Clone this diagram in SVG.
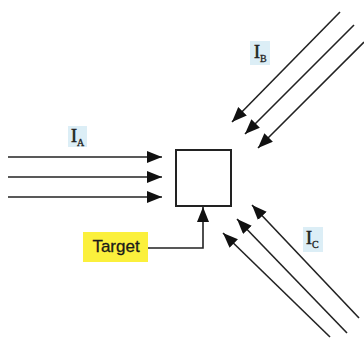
<svg xmlns="http://www.w3.org/2000/svg" width="364" height="348" viewBox="0 0 364 348">
<defs>
<style>
.ln{stroke:#222;stroke-width:1.6;fill:none;marker-end:url(#ah)}
.lbl{fill:#dceef6}
.i{font-family:"Liberation Serif",serif;font-size:18px;fill:#222;stroke:#222;stroke-width:0.6}
.s{font-family:"Liberation Serif",serif;font-size:10px;fill:#222;stroke:#222;stroke-width:0.3}
</style>
<marker id="ah" markerUnits="userSpaceOnUse" markerWidth="16" markerHeight="13" refX="15" refY="6" orient="auto">
<path d="M0,0 L15,6 L0,12 Z" fill="#111"/>
</marker>
</defs>
<rect width="364" height="348" fill="#fff"/>
<g id="connectors">
<line class="ln" x1="8" y1="157" x2="162" y2="157"/>
<line class="ln" x1="8" y1="177" x2="162" y2="177"/>
<line class="ln" x1="8" y1="197" x2="162" y2="197"/>
<line class="ln" x1="340" y1="12" x2="232" y2="122"/>
<line class="ln" x1="354" y1="25" x2="245" y2="134"/>
<line class="ln" x1="364" y1="42" x2="258" y2="148"/>
<line class="ln" x1="359" y1="318" x2="252" y2="205"/>
<line class="ln" x1="347" y1="333" x2="237" y2="219"/>
<line class="ln" x1="330" y1="337" x2="223" y2="233"/>
<polyline class="ln" points="148,248 203,248 203,207"/>
</g>
<g id="target-box">
<rect x="176" y="150" width="55" height="56" fill="#fff" stroke="#222" stroke-width="2"/>
</g>
<g id="target-label">
<rect x="83" y="232" width="65" height="30" fill="#fbf03c"/>
<text x="116" y="252" text-anchor="middle" font-family="Liberation Sans,Arial,sans-serif" font-size="17" fill="#1a1a1a" stroke="#1a1a1a" stroke-width="0.3">Target</text>
</g>
<g id="label-a">
<rect class="lbl" x="68" y="126" width="19" height="21"/>
<text x="71" y="142"><tspan class="i">I</tspan><tspan class="s" dy="4">A</tspan></text>
</g>
<g id="label-b">
<rect class="lbl" x="250" y="41" width="20" height="24"/>
<text x="254" y="58"><tspan class="i">I</tspan><tspan class="s" dy="4">B</tspan></text>
</g>
<g id="label-c">
<rect class="lbl" x="303" y="227" width="20" height="25"/>
<text x="306" y="244"><tspan class="i">I</tspan><tspan class="s" dy="4">C</tspan></text>
</g>
</svg>
